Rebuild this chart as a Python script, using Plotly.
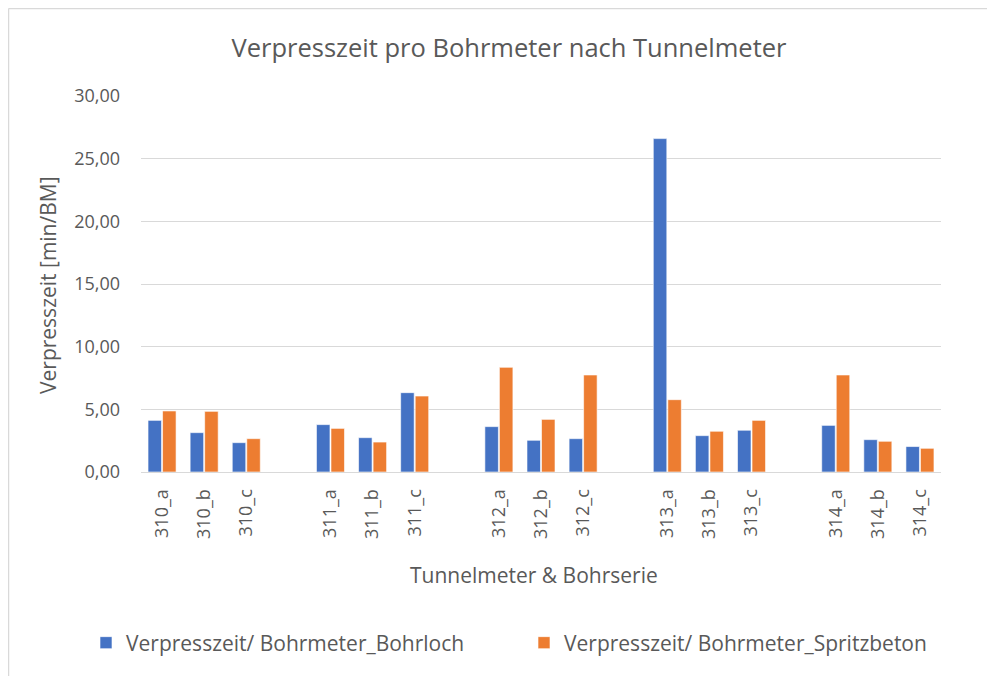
import plotly.graph_objects as go

# categories, with blank spacer slots between the tunnel meters
categories = ["310_a", "310_b", "310_c", " ",
              "311_a", "311_b", "311_c", "  ",
              "312_a", "312_b", "312_c", "   ",
              "313_a", "313_b", "313_c", "    ",
              "314_a", "314_b", "314_c"]

bohrloch = [4.12, 3.14, 2.34, None,
            3.78, 2.74, 6.33, None,
            3.62, 2.53, 2.66, None,
            26.6, 2.90, 3.33, None,
            3.72, 2.58, 2.03]

spritzbeton = [4.87, 4.84, 2.66, None,
               3.48, 2.39, 6.06, None,
               8.35, 4.20, 7.74, None,
               5.77, 3.25, 4.12, None,
               7.74, 2.45, 1.89]

BLUE = "#4472C4"
ORANGE = "#ED7D31"
GREY = "#595959"
FONT = "Open Sans, sans-serif"

# figure is 979x668 (page has an 8px body margin); plot area 800x376
L, T, PW, PH = 133, 88, 800, 376
W, H = 979, 668


def px_x(fx):
    return (fx - L) / PW


def px_y(fy):
    return (T + PH - fy) / PH


fig = go.Figure()
fig.add_trace(go.Bar(x=categories, y=bohrloch, name="Verpresszeit/ Bohrmeter_Bohrloch",
                     legend="legend",
                     marker=dict(color=BLUE, line=dict(color="rgba(255,255,255,0.6)", width=1))))
fig.add_trace(go.Bar(x=categories, y=spritzbeton, name="Verpresszeit/ Bohrmeter_Spritzbeton",
                     legend="legend2",
                     marker=dict(color=ORANGE, line=dict(color="rgba(255,255,255,0.6)", width=1))))

leg = dict(orientation="h", yanchor="middle", xanchor="left",
           font=dict(size=21, color=GREY), itemwidth=30, bgcolor="rgba(0,0,0,0)")

fig.update_layout(
    width=W, height=H,
    plot_bgcolor="white", paper_bgcolor="white",
    separators=",.",
    font=dict(family=FONT, size=18, color=GREY),
    title=dict(text="Verpresszeit pro Bohrmeter nach Tunnelmeter",
               font=dict(size=25.5, color=GREY), x=501 / W, xanchor="center",
               y=1 - 40 / H, yanchor="middle"),
    barmode="group", bargap=0.31, bargroupgap=0.07,
    margin=dict(l=L, r=W - L - PW, t=T, b=H - T - PH),
    showlegend=True,
    legend=dict(leg, x=px_x(78), y=px_y(635)),
    legend2=dict(leg, x=px_x(516), y=px_y(635)),
    xaxis=dict(type="category", categoryorder="array", categoryarray=categories,
               tickangle=-90, showgrid=False, ticks="", showline=True,
               linecolor="#d9d9d9", linewidth=1, tickfont=dict(size=18),
               ticklabelstandoff=9),
    yaxis=dict(range=[0, 30], dtick=5, tickformat=".2f", showgrid=True,
               gridcolor="#d9d9d9", gridwidth=1, zeroline=False, ticks="",
               tickfont=dict(size=18), ticklabelstandoff=20),
    shapes=[
        dict(type="line", xref="paper", yref="paper",
             x0=px_x(0.5), x1=px_x(W), y0=px_y(0.5), y1=px_y(0.5),
             line=dict(color="#d9d9d9", width=1.5)),
        dict(type="line", xref="paper", yref="paper",
             x0=px_x(0.5), x1=px_x(0.5), y0=px_y(0.5), y1=px_y(H),
             line=dict(color="#d9d9d9", width=1.5)),
    ],
    annotations=[
        dict(text="Tunnelmeter & Bohrserie", xref="paper", yref="paper",
             x=px_x(525.5), y=px_y(567), showarrow=False,
             font=dict(size=21, color=GREY), xanchor="center", yanchor="middle"),
        dict(text="Verpresszeit [min/BM]", xref="paper", yref="paper",
             x=px_x(40), y=px_y(277), showarrow=False, textangle=-90,
             font=dict(size=21, color=GREY), xanchor="center", yanchor="middle"),
    ],
)

fig.write_html("out.html")
